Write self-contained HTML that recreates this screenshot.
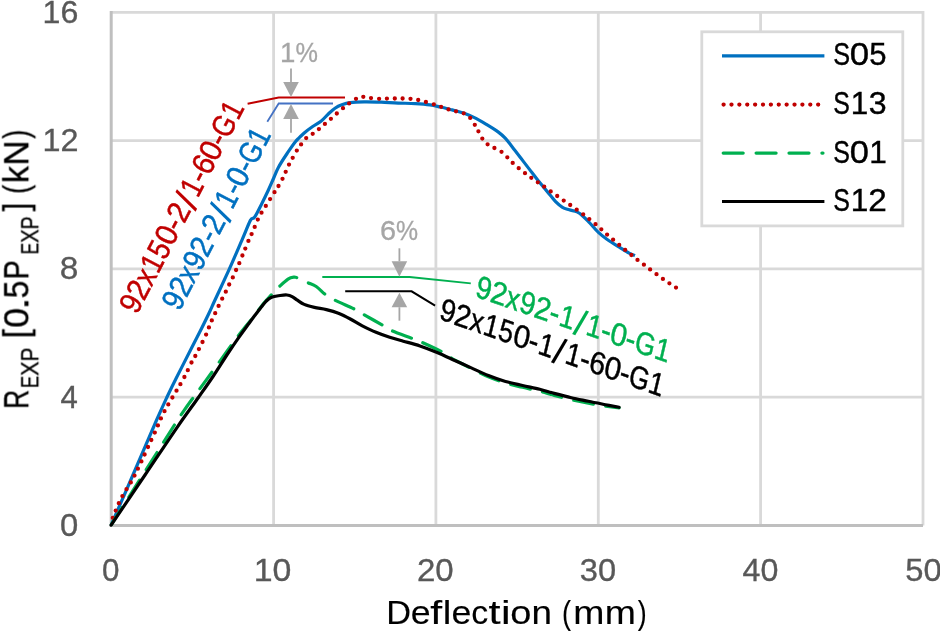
<!DOCTYPE html>
<html lang="en"><head><meta charset="utf-8"><title>Deflection chart</title>
<style>
html,body{margin:0;padding:0;background:#fff;}
body{width:940px;height:632px;overflow:hidden;}
svg{display:block;}
text{font-family:"Liberation Sans",sans-serif;}
.tick{fill:#595959;stroke:#595959;stroke-width:0.35;}
.ann{fill:#a6a6a6;stroke:#a6a6a6;stroke-width:0.3;}
</style></head><body>
<svg role="img" aria-label="R EXP [0.5P EXP] (kN) versus Deflection (mm) for specimens S05, S13, S01 and S12" width="940" height="632" viewBox="0 0 940 632">
<defs><filter id="soft" x="0" y="0" width="940" height="632" filterUnits="userSpaceOnUse"><feGaussianBlur stdDeviation="0.55"/></filter></defs>
<rect width="940" height="632" fill="#fff"/>
<g id="all" filter="url(#soft)">

<g stroke="#d9d9d9" stroke-width="2.8" fill="none">
<line x1="273.6" y1="12.3" x2="273.6" y2="525.4"/>
<line x1="435.9" y1="12.3" x2="435.9" y2="525.4"/>
<line x1="598.3" y1="12.3" x2="598.3" y2="525.4"/>
<line x1="760.6" y1="12.3" x2="760.6" y2="525.4"/>
<line x1="111.2" y1="397.1" x2="923.0" y2="397.1"/>
<line x1="111.2" y1="268.8" x2="923.0" y2="268.8"/>
<line x1="111.2" y1="140.6" x2="923.0" y2="140.6"/>
<path d="M111.2,12.3 H923.0 V525.4"/>
</g>
<path d="M111.2,10.9 V525.4 H923.0" stroke="#bfbfbf" stroke-width="3" fill="none"/>
<path id="cb" d="M111.1,525.1 C114.9,516.3 126.5,489.9 134.0,472.5 C141.6,455.1 150.9,433.0 156.4,420.5 C161.9,408.0 163.4,404.8 166.8,397.5 C170.2,390.2 172.7,385.1 176.8,377.0 C180.9,368.9 187.4,356.2 191.3,348.6 C195.2,341.0 197.1,337.2 200.0,331.5 C202.9,325.8 206.0,319.4 208.5,314.2 C211.0,308.9 211.5,307.6 215.0,300.0 C218.5,292.4 224.9,279.0 229.5,268.7 C234.1,258.4 239.2,246.4 242.7,238.4 C246.2,230.4 248.4,224.0 250.4,220.4 C252.4,216.8 252.8,219.7 254.7,217.0 C256.6,214.3 259.2,208.7 261.5,204.2 C263.8,199.7 266.4,194.3 268.4,190.0 C270.4,185.7 271.8,182.3 273.5,178.5 C275.2,174.7 276.2,171.4 278.5,167.2 C280.8,163.0 284.2,157.8 287.1,153.5 C290.0,149.2 292.8,144.9 295.6,141.5 C298.5,138.1 301.4,135.5 304.2,133.0 C307.0,130.5 309.8,128.5 312.7,126.5 C315.6,124.5 318.7,123.0 321.3,121.0 C323.9,119.0 325.8,116.3 328.1,114.2 C330.4,112.1 332.7,109.8 335.0,108.2 C337.3,106.6 339.2,105.7 341.8,104.8 C344.4,103.9 346.6,103.2 350.3,102.7 C354.0,102.2 358.9,102.0 364.0,101.9 C369.1,101.8 375.4,102.0 381.1,102.2 C386.8,102.4 392.5,102.9 398.2,103.1 C403.9,103.3 410.0,103.3 415.3,103.6 C420.6,103.9 425.8,104.3 430.0,104.9 C434.2,105.5 436.6,106.2 440.3,107.0 C444.0,107.8 448.2,108.9 452.2,109.9 C456.2,111.0 460.5,112.0 464.2,113.3 C467.9,114.6 470.7,115.8 474.4,117.6 C478.1,119.4 482.4,122.0 486.4,124.4 C490.4,126.8 495.3,129.8 498.4,132.1 C501.5,134.4 502.9,135.7 505.2,138.1 C507.5,140.5 509.5,143.4 512.1,146.7 C514.7,150.0 517.8,154.1 520.6,157.8 C523.4,161.5 526.1,165.0 529.1,168.9 C532.1,172.8 535.5,177.3 538.5,181.1 C541.5,184.8 544.2,188.0 547.1,191.4 C550.0,194.8 553.0,198.9 555.6,201.6 C558.2,204.2 560.2,205.9 562.5,207.3 C564.8,208.7 566.9,209.0 569.3,209.8 C571.7,210.6 574.7,210.8 577.0,211.9 C579.3,213.0 580.9,214.3 583.0,216.2 C585.1,218.0 587.2,220.3 589.8,223.0 C592.4,225.7 595.5,229.7 598.4,232.4 C601.2,235.1 603.5,236.8 606.9,239.2 C610.3,241.6 615.2,244.6 618.9,246.9 C622.6,249.2 626.4,251.8 629.1,253.2 C631.8,254.6 634.0,255.2 635.0,255.6" stroke="#0070c0" stroke-width="3.2" fill="none" stroke-linejoin="round"/>
<path id="cred" d="M112.8,517.8h0.01 M115.7,510.6h0.01 M118.8,503.2h0.01 M122.4,496.1h0.01 M126.5,489.2h0.01 M130.8,482.4h0.01 M134.5,475.6h0.01 M137.9,468.7h0.01 M141.4,461.4h0.01 M144.6,454.5h0.01 M148.0,447.0h0.01 M151.3,440.0h0.01 M154.8,432.6h0.01 M157.9,425.4h0.01 M160.9,418.4h0.01 M164.5,411.2h0.01 M168.3,404.4h0.01 M172.4,397.5h0.01 M176.5,390.7h0.01 M180.4,384.2h0.01 M184.4,377.0h0.01 M187.8,370.2h0.01 M191.5,362.5h0.01 M195.3,356.0h0.01 M198.9,349.1h0.01 M202.5,342.0h0.01 M206.1,334.6h0.01 M208.9,327.4h0.01 M211.8,320.4h0.01 M215.2,313.2h0.01 M218.6,305.9h0.01 M222.2,298.7h0.01 M225.8,291.7h0.01 M229.2,284.5h0.01 M232.8,277.4h0.01 M236.1,270.0h0.01 M239.3,263.2h0.01 M242.4,255.5h0.01 M245.3,248.6h0.01 M248.4,240.9h0.01 M251.6,234.1h0.01 M254.7,226.9h0.01 M257.8,219.6h0.01 M261.5,212.7h0.01 M265.8,205.9h0.01 M270.1,199.1h0.01 M274.5,192.2h0.01 M278.5,186.0h0.01 M282.5,178.8h0.01 M285.7,171.8h0.01 M289.0,164.6h0.01 M292.7,157.8h0.01 M296.8,150.6h0.01 M301.1,144.4h0.01 M306.2,138.1h0.01 M312.7,133.8h0.01 M318.9,129.1h0.01 M324.9,123.9h0.01 M330.9,118.8h0.01 M336.8,113.5h0.01 M343.0,108.2h0.01 M349.1,103.4h0.01 M356.0,98.8h0.01 M363.3,96.8h0.01 M371.0,98.1h0.01 M379.1,98.8h0.01 M386.9,98.6h0.01 M394.8,98.5h0.01 M402.6,98.5h0.01 M410.5,98.8h0.01 M418.2,100.0h0.01 M425.9,101.9h0.01 M433.8,104.3h0.01 M441.1,106.8h0.01 M448.5,109.4h0.01 M456.0,111.3h0.01 M463.7,113.3h0.01 M470.2,117.9h0.01 M474.8,124.8h0.01 M478.4,131.3h0.01 M482.3,138.6h0.01 M487.6,144.3h0.01 M494.4,148.0h0.01 M501.5,151.8h0.01 M507.3,157.3h0.01 M512.7,162.9h0.01 M518.7,168.2h0.01 M525.0,173.2h0.01 M531.3,177.8h0.01 M537.8,182.3h0.01 M544.2,186.7h0.01 M550.7,191.4h0.01 M557.2,196.0h0.01 M563.7,200.6h0.01 M570.2,205.0h0.01 M576.7,209.7h0.01 M583.2,214.3h0.01 M589.3,219.1h0.01 M595.5,224.2h0.01 M601.3,229.3h0.01 M607.1,234.6h0.01 M613.1,239.7h0.01 M619.2,244.9h0.01 M625.2,249.9h0.01 M631.4,255.0h0.01 M637.5,259.9h0.01 M643.9,264.7h0.01 M650.1,269.4h0.01 M656.5,274.2h0.01 M662.9,278.9h0.01 M669.4,283.3h0.01 M676.0,287.6h0.01" stroke="#c00000" stroke-width="4.3" fill="none" stroke-linecap="round"/>
<path id="cg" d="M111.1,525.1 C113.8,520.8 121.9,508.1 127.4,499.4 C132.9,490.7 138.5,481.9 144.1,473.0 C149.7,464.1 155.9,454.4 161.2,446.0 C166.5,437.6 171.8,429.0 176.0,422.5 C180.2,416.0 183.2,411.8 186.5,407.0 C189.8,402.2 191.9,399.6 196.0,394.0 C200.1,388.4 205.9,380.5 211.0,373.5 C216.1,366.5 222.1,358.1 226.5,352.0 C230.9,345.9 234.0,341.4 237.5,336.8 C241.0,332.2 244.5,328.1 247.5,324.3 C250.5,320.5 253.2,317.1 255.6,314.0 C258.0,310.9 259.9,308.1 262.0,305.5 C264.1,302.9 266.1,300.7 268.0,298.5 C269.9,296.3 271.6,294.5 273.5,292.5 C275.4,290.5 277.0,288.7 279.4,286.5 C281.8,284.3 285.6,280.7 288.0,279.1 C290.4,277.5 292.3,277.3 293.9,277.1 C295.5,276.9 295.1,277.0 297.4,277.9 C299.7,278.8 304.5,281.2 307.6,282.6 C310.7,284.0 313.2,284.5 316.2,286.5 C319.2,288.5 322.5,292.4 325.6,294.7 C328.7,297.0 330.0,297.7 335.0,300.2 C340.0,302.7 350.7,307.2 355.5,309.6 C360.3,312.0 359.3,312.0 364.0,314.7 C368.7,317.4 379.0,323.1 383.7,325.8 C388.4,328.5 387.4,328.8 392.2,330.9 C397.0,333.0 407.5,336.6 412.7,338.6 C417.9,340.6 418.5,340.8 423.4,343.0 C428.3,345.2 436.9,349.1 442.2,352.0 C447.5,354.9 450.1,357.5 455.0,360.2 C459.9,362.9 465.7,365.6 471.3,368.4 C476.9,371.2 482.7,374.4 488.4,376.8 C494.1,379.2 499.8,381.2 505.5,383.0 C511.2,384.8 516.9,385.9 522.6,387.3 C528.3,388.7 534.4,389.9 539.7,391.2 C545.0,392.5 548.9,394.0 554.2,395.4 C559.5,396.8 565.6,398.4 571.3,399.7 C577.0,401.0 582.7,402.2 588.4,403.3 C594.1,404.4 600.4,405.4 605.5,406.2 C610.6,406.9 616.8,407.5 619.1,407.8" stroke="#00b050" stroke-width="3.2" fill="none" stroke-dasharray="20 12.5" stroke-linecap="round" stroke-dashoffset="-0.7"/>
<path id="ck" d="M111.1,525.1 C116.8,516.8 133.9,491.4 145.0,475.0 C156.1,458.6 168.6,439.7 177.5,426.8 C186.4,413.9 192.5,405.9 198.4,397.5 C204.3,389.1 208.0,383.9 213.0,376.5 C218.0,369.1 223.9,359.4 228.2,353.0 C232.4,346.6 235.2,342.5 238.5,337.8 C241.8,333.1 245.1,328.7 247.9,324.8 C250.8,320.9 253.3,317.5 255.6,314.5 C257.9,311.5 259.8,309.0 261.5,306.8 C263.2,304.6 264.3,302.9 266.0,301.3 C267.7,299.7 269.2,298.2 271.6,297.2 C274.0,296.2 277.6,295.9 280.2,295.5 C282.8,295.1 285.0,294.8 287.0,295.0 C289.0,295.2 290.4,295.7 292.1,296.6 C293.8,297.5 295.4,298.9 297.4,300.2 C299.4,301.5 301.4,303.2 304.2,304.4 C307.0,305.6 310.7,306.5 314.4,307.4 C318.1,308.3 322.4,308.6 326.4,309.6 C330.4,310.6 334.4,311.7 338.4,313.3 C342.4,314.9 346.3,316.9 350.3,319.0 C354.3,321.1 358.0,323.6 362.3,325.8 C366.6,328.0 371.4,330.4 376.0,332.3 C380.6,334.2 385.1,335.8 389.7,337.3 C394.2,338.8 398.2,339.8 403.3,341.2 C408.4,342.6 414.4,344.0 420.0,345.9 C425.6,347.8 431.4,350.1 437.1,352.5 C442.8,354.9 448.5,357.6 454.2,360.2 C459.9,362.8 465.6,365.3 471.3,367.9 C477.0,370.5 482.7,373.3 488.4,375.6 C494.1,377.9 499.8,379.9 505.5,381.5 C511.2,383.1 516.9,384.2 522.6,385.5 C528.3,386.8 534.4,387.9 539.7,389.2 C545.0,390.5 548.9,392.0 554.2,393.4 C559.5,394.8 565.6,396.4 571.3,397.7 C577.0,399.0 582.7,400.1 588.4,401.3 C594.1,402.5 600.4,403.7 605.5,404.7 C610.6,405.7 616.8,406.9 619.1,407.3" stroke="#000" stroke-width="3.2" fill="none" stroke-linejoin="round" stroke-linecap="round"/>
<path d="M247.6,103.8 L278.7,97.5 H345" stroke="#c00000" stroke-width="2" fill="none"/>
<path d="M267.3,121.8 L278.7,103.5 H333" stroke="#4472c4" stroke-width="1.8" fill="none"/>
<path d="M322.3,277 H409.6 L470.8,283.3" stroke="#00b050" stroke-width="1.8" fill="none"/>
<path d="M345.2,291.3 H411.6 L435.1,305.7" stroke="#000" stroke-width="2" fill="none"/>
<line x1="291" y1="68.4" x2="291" y2="82" stroke="#a6a6a6" stroke-width="1.8"/><path d="M283.2,82 L298.8,82 L291,97 Z" fill="#a6a6a6"/>
<line x1="291" y1="132.8" x2="291" y2="119" stroke="#a6a6a6" stroke-width="1.8"/><path d="M283.2,119 L298.8,119 L291,103.9 Z" fill="#a6a6a6"/>
<line x1="399.4" y1="248.3" x2="399.4" y2="261.3" stroke="#a6a6a6" stroke-width="1.8"/><path d="M391.59999999999997,261.3 L407.2,261.3 L399.4,276.7 Z" fill="#a6a6a6"/>
<line x1="399.4" y1="320.7" x2="399.4" y2="307.2" stroke="#a6a6a6" stroke-width="1.8"/><path d="M391.59999999999997,307.2 L407.2,307.2 L399.4,292.8 Z" fill="#a6a6a6"/>
<text id="p1" aria-label="1%" class="ann" y="61.5" font-size="28"><tspan x="279.90" textLength="15.37" lengthAdjust="spacingAndGlyphs">1</tspan><tspan x="295.46" textLength="22.44" lengthAdjust="spacingAndGlyphs">%</tspan></text>
<text id="p6" aria-label="6%" class="ann" y="240.3" font-size="28"><tspan x="380.03" textLength="16.06" lengthAdjust="spacingAndGlyphs">6</tspan><tspan x="396.03" textLength="22.06" lengthAdjust="spacingAndGlyphs">%</tspan></text>
<text id="lr" aria-label="92x150-2/1-60-G1" transform="translate(137,315.3) rotate(-62.5)" font-size="31.5" fill="#c00000" stroke="#c00000" stroke-width="0.45"><tspan x="0.04" y="0.00" textLength="15.53" lengthAdjust="spacingAndGlyphs">9</tspan><tspan x="15.28" y="0.00" textLength="16.16" lengthAdjust="spacingAndGlyphs">2</tspan><tspan x="31.37" y="0.00" textLength="13.55" lengthAdjust="spacingAndGlyphs">x</tspan><tspan x="45.62" y="0.00" textLength="15.28" lengthAdjust="spacingAndGlyphs">1</tspan><tspan x="61.34" y="0.00" textLength="14.89" lengthAdjust="spacingAndGlyphs">5</tspan><tspan x="76.62" y="0.00" textLength="16.71" lengthAdjust="spacingAndGlyphs">0</tspan><tspan x="92.78" y="0.00" textLength="10.05" lengthAdjust="spacingAndGlyphs">-</tspan><tspan x="102.58" y="0.00" textLength="16.16" lengthAdjust="spacingAndGlyphs">2</tspan><tspan x="119.00" y="3.62" font-size="36.63" stroke-width="0" textLength="11.38" lengthAdjust="spacingAndGlyphs">/</tspan><tspan x="131.44" y="0.00" textLength="15.28" lengthAdjust="spacingAndGlyphs">1</tspan><tspan x="146.62" y="0.00" textLength="10.05" lengthAdjust="spacingAndGlyphs">-</tspan><tspan x="156.40" y="0.00" textLength="16.25" lengthAdjust="spacingAndGlyphs">6</tspan><tspan x="172.10" y="0.00" textLength="16.71" lengthAdjust="spacingAndGlyphs">0</tspan><tspan x="188.26" y="0.00" textLength="10.05" lengthAdjust="spacingAndGlyphs">-</tspan><tspan x="197.98" y="0.00" textLength="20.34" lengthAdjust="spacingAndGlyphs">G</tspan><tspan x="218.65" y="0.00" textLength="15.28" lengthAdjust="spacingAndGlyphs">1</tspan></text>
<text id="lb" aria-label="92x92-2/1-0-G1" transform="translate(179.5,312) rotate(-62.5)" font-size="31.5" fill="#0070c0" stroke="#0070c0" stroke-width="0.45"><tspan x="0.04" y="0.00" textLength="15.37" lengthAdjust="spacingAndGlyphs">9</tspan><tspan x="15.13" y="0.00" textLength="16.00" lengthAdjust="spacingAndGlyphs">2</tspan><tspan x="31.06" y="0.00" textLength="13.42" lengthAdjust="spacingAndGlyphs">x</tspan><tspan x="45.24" y="0.00" textLength="15.37" lengthAdjust="spacingAndGlyphs">9</tspan><tspan x="60.33" y="0.00" textLength="16.00" lengthAdjust="spacingAndGlyphs">2</tspan><tspan x="76.02" y="0.00" textLength="9.95" lengthAdjust="spacingAndGlyphs">-</tspan><tspan x="85.73" y="0.00" textLength="16.00" lengthAdjust="spacingAndGlyphs">2</tspan><tspan x="101.93" y="3.62" font-size="36.63" stroke-width="0" textLength="11.38" lengthAdjust="spacingAndGlyphs">/</tspan><tspan x="114.30" y="0.00" textLength="15.13" lengthAdjust="spacingAndGlyphs">1</tspan><tspan x="129.32" y="0.00" textLength="9.95" lengthAdjust="spacingAndGlyphs">-</tspan><tspan x="138.72" y="0.00" textLength="16.54" lengthAdjust="spacingAndGlyphs">0</tspan><tspan x="154.72" y="0.00" textLength="9.95" lengthAdjust="spacingAndGlyphs">-</tspan><tspan x="164.34" y="0.00" textLength="20.14" lengthAdjust="spacingAndGlyphs">G</tspan><tspan x="184.80" y="0.00" textLength="15.13" lengthAdjust="spacingAndGlyphs">1</tspan></text>
<text id="lg" aria-label="92x92-1/1-0-G1" transform="translate(474.3,296.3) rotate(19) skewX(6)" font-size="31.5" fill="#00b050" stroke="#00b050" stroke-width="0.45"><tspan x="0.04" y="0.00" textLength="15.72" lengthAdjust="spacingAndGlyphs">9</tspan><tspan x="15.47" y="0.00" textLength="16.36" lengthAdjust="spacingAndGlyphs">2</tspan><tspan x="31.76" y="0.00" textLength="13.72" lengthAdjust="spacingAndGlyphs">x</tspan><tspan x="46.26" y="0.00" textLength="15.72" lengthAdjust="spacingAndGlyphs">9</tspan><tspan x="61.69" y="0.00" textLength="16.36" lengthAdjust="spacingAndGlyphs">2</tspan><tspan x="77.73" y="0.00" textLength="10.17" lengthAdjust="spacingAndGlyphs">-</tspan><tspan x="88.34" y="0.00" textLength="15.47" lengthAdjust="spacingAndGlyphs">1</tspan><tspan x="104.35" y="3.62" font-size="36.63" stroke-width="0" textLength="11.38" lengthAdjust="spacingAndGlyphs">/</tspan><tspan x="116.87" y="0.00" textLength="15.47" lengthAdjust="spacingAndGlyphs">1</tspan><tspan x="132.23" y="0.00" textLength="10.17" lengthAdjust="spacingAndGlyphs">-</tspan><tspan x="141.84" y="0.00" textLength="16.91" lengthAdjust="spacingAndGlyphs">0</tspan><tspan x="158.20" y="0.00" textLength="10.17" lengthAdjust="spacingAndGlyphs">-</tspan><tspan x="168.04" y="0.00" textLength="20.59" lengthAdjust="spacingAndGlyphs">G</tspan><tspan x="188.96" y="0.00" textLength="15.47" lengthAdjust="spacingAndGlyphs">1</tspan></text>
<text id="lk" aria-label="92x150-1/1-60-G1" transform="translate(438.3,318.8) rotate(19.3) skewX(6)" font-size="31.5" fill="#000" stroke="#000" stroke-width="0.45"><tspan x="0.04" y="0.00" textLength="15.69" lengthAdjust="spacingAndGlyphs">9</tspan><tspan x="15.45" y="0.00" textLength="16.33" lengthAdjust="spacingAndGlyphs">2</tspan><tspan x="31.70" y="0.00" textLength="13.70" lengthAdjust="spacingAndGlyphs">x</tspan><tspan x="46.11" y="0.00" textLength="15.45" lengthAdjust="spacingAndGlyphs">1</tspan><tspan x="62.00" y="0.00" textLength="15.05" lengthAdjust="spacingAndGlyphs">5</tspan><tspan x="77.43" y="0.00" textLength="16.89" lengthAdjust="spacingAndGlyphs">0</tspan><tspan x="93.77" y="0.00" textLength="10.15" lengthAdjust="spacingAndGlyphs">-</tspan><tspan x="104.36" y="0.00" textLength="15.45" lengthAdjust="spacingAndGlyphs">1</tspan><tspan x="120.33" y="3.62" font-size="36.63" stroke-width="0" textLength="11.38" lengthAdjust="spacingAndGlyphs">/</tspan><tspan x="132.85" y="0.00" textLength="15.45" lengthAdjust="spacingAndGlyphs">1</tspan><tspan x="148.18" y="0.00" textLength="10.15" lengthAdjust="spacingAndGlyphs">-</tspan><tspan x="158.07" y="0.00" textLength="16.42" lengthAdjust="spacingAndGlyphs">6</tspan><tspan x="173.94" y="0.00" textLength="16.89" lengthAdjust="spacingAndGlyphs">0</tspan><tspan x="190.28" y="0.00" textLength="10.15" lengthAdjust="spacingAndGlyphs">-</tspan><tspan x="200.10" y="0.00" textLength="20.56" lengthAdjust="spacingAndGlyphs">G</tspan><tspan x="220.99" y="0.00" textLength="15.45" lengthAdjust="spacingAndGlyphs">1</tspan></text>
<rect x="701.8" y="31.8" width="201" height="194.1" fill="#fff" stroke="#d9d9d9" stroke-width="2.8"/>
<line x1="722" y1="55.8" x2="824.4" y2="55.8" stroke="#0070c0" stroke-width="3.2"/>
<line x1="723.6" y1="104.6" x2="819" y2="104.6" stroke="#c00000" stroke-width="4.3" stroke-dasharray="0.01 7.87" stroke-linecap="round"/>
<line x1="723.2" y1="153.1" x2="823" y2="153.1" stroke="#00b050" stroke-width="3.2" stroke-dasharray="20 12.9" stroke-linecap="round"/>
<line x1="722" y1="201.5" x2="824.4" y2="201.5" stroke="#000" stroke-width="3.2"/>
<text id="leg0" aria-label="S05" y="65.4" font-size="31" fill="#000" stroke="#000" stroke-width="0.4"><tspan x="833.25" textLength="16.86" lengthAdjust="spacingAndGlyphs">S</tspan><tspan x="849.83" textLength="19.39" lengthAdjust="spacingAndGlyphs">0</tspan><tspan x="869.22" textLength="17.28" lengthAdjust="spacingAndGlyphs">5</tspan></text>
<text id="leg1" aria-label="S13" y="114.0" font-size="31" fill="#000" stroke="#000" stroke-width="0.4"><tspan x="833.27" textLength="16.61" lengthAdjust="spacingAndGlyphs">S</tspan><tspan x="850.73" textLength="17.47" lengthAdjust="spacingAndGlyphs">1</tspan><tspan x="868.74" textLength="17.87" lengthAdjust="spacingAndGlyphs">3</tspan></text>
<text id="leg2" aria-label="S01" y="162.6" font-size="31" fill="#000" stroke="#000" stroke-width="0.4"><tspan x="833.26" textLength="16.69" lengthAdjust="spacingAndGlyphs">S</tspan><tspan x="849.67" textLength="19.19" lengthAdjust="spacingAndGlyphs">0</tspan><tspan x="869.18" textLength="17.56" lengthAdjust="spacingAndGlyphs">1</tspan></text>
<text id="leg3" aria-label="S12" y="211.2" font-size="31" fill="#000" stroke="#000" stroke-width="0.4"><tspan x="833.27" textLength="16.66" lengthAdjust="spacingAndGlyphs">S</tspan><tspan x="850.78" textLength="17.53" lengthAdjust="spacingAndGlyphs">1</tspan><tspan x="868.35" textLength="18.53" lengthAdjust="spacingAndGlyphs">2</tspan></text>
<text id="ty0" class="tick" x="59.92" y="535.8" font-size="32.2" textLength="18.27" lengthAdjust="spacingAndGlyphs">0</text>
<text id="ty4" class="tick" x="60.48" y="407.5" font-size="32.2" textLength="17.33" lengthAdjust="spacingAndGlyphs">4</text>
<text id="ty8" class="tick" x="59.75" y="279.2" font-size="32.2" textLength="18.61" lengthAdjust="spacingAndGlyphs">8</text>
<text id="ty12" class="tick" x="42.54" y="151.0" font-size="32.2" textLength="35.99" lengthAdjust="spacingAndGlyphs">12</text>
<text id="ty16" class="tick" x="42.55" y="22.7" font-size="32.2" textLength="35.76" lengthAdjust="spacingAndGlyphs">16</text>
<text id="tx0" class="tick" x="102.07" y="581.2" font-size="32.2" textLength="17.45" lengthAdjust="spacingAndGlyphs">0</text>
<text id="tx10" class="tick" x="253.68" y="581.2" font-size="32.2" textLength="37.71" lengthAdjust="spacingAndGlyphs">10</text>
<text id="tx20" class="tick" x="416.96" y="581.2" font-size="32.2" textLength="36.75" lengthAdjust="spacingAndGlyphs">20</text>
<text id="tx30" class="tick" x="579.74" y="581.2" font-size="32.2" textLength="36.32" lengthAdjust="spacingAndGlyphs">30</text>
<text id="tx40" class="tick" x="742.60" y="581.2" font-size="32.2" textLength="35.80" lengthAdjust="spacingAndGlyphs">40</text>
<text id="tx50" class="tick" x="905.19" y="581.2" font-size="32.2" textLength="36.39" lengthAdjust="spacingAndGlyphs">50</text>
<text id="xt" aria-label="Deflection (mm)" y="624.4" font-size="33.4" fill="#000" stroke="#000" stroke-width="0.15"><tspan x="386.39" textLength="24.78" lengthAdjust="spacingAndGlyphs">D</tspan><tspan x="410.76" textLength="19.90" lengthAdjust="spacingAndGlyphs">e</tspan><tspan x="430.36" textLength="11.87" lengthAdjust="spacingAndGlyphs">f</tspan><tspan x="442.80" textLength="8.59" lengthAdjust="spacingAndGlyphs">l</tspan><tspan x="451.56" textLength="19.90" lengthAdjust="spacingAndGlyphs">e</tspan><tspan x="471.19" textLength="16.94" lengthAdjust="spacingAndGlyphs">c</tspan><tspan x="488.42" textLength="12.06" lengthAdjust="spacingAndGlyphs">t</tspan><tspan x="500.95" textLength="9.65" lengthAdjust="spacingAndGlyphs">i</tspan><tspan x="510.18" textLength="21.14" lengthAdjust="spacingAndGlyphs">o</tspan><tspan x="531.43" textLength="20.49" lengthAdjust="spacingAndGlyphs">n</tspan><tspan> </tspan><tspan x="562.08" textLength="9.07" lengthAdjust="spacingAndGlyphs">(</tspan><tspan x="573.21" textLength="31.16" lengthAdjust="spacingAndGlyphs">m</tspan><tspan x="604.79" textLength="31.16" lengthAdjust="spacingAndGlyphs">m</tspan><tspan x="637.82" textLength="8.94" lengthAdjust="spacingAndGlyphs">)</tspan></text>
<g id="yt" transform="translate(28.3,406.6) rotate(-90)" fill="#000" stroke="#000" stroke-width="0.3">
<text id="yt1" aria-label="R" y="0" font-size="34.6"><tspan x="-2.17" textLength="19.10" lengthAdjust="spacingAndGlyphs">R</tspan></text>
<text id="yt2" aria-label="EXP" y="9.7" font-size="23.9"><tspan x="18.59" textLength="12.25" lengthAdjust="spacingAndGlyphs">E</tspan><tspan x="30.83" textLength="14.42" lengthAdjust="spacingAndGlyphs">X</tspan><tspan x="45.14" textLength="13.74" lengthAdjust="spacingAndGlyphs">P</tspan></text>
<text id="yt3" aria-label="[0.5P" y="0" font-size="34.6"><tspan x="68.24" textLength="9.18" lengthAdjust="spacingAndGlyphs">[</tspan><tspan x="78.76" textLength="19.89" lengthAdjust="spacingAndGlyphs">0</tspan><tspan x="96.71" textLength="12.50" lengthAdjust="spacingAndGlyphs">.</tspan><tspan x="108.15" textLength="17.73" lengthAdjust="spacingAndGlyphs">5</tspan><tspan x="127.06" textLength="19.48" lengthAdjust="spacingAndGlyphs">P</tspan></text>
<text id="yt4" aria-label="EXP" y="9.7" font-size="23.9"><tspan x="152.29" textLength="11.50" lengthAdjust="spacingAndGlyphs">E</tspan><tspan x="163.77" textLength="13.54" lengthAdjust="spacingAndGlyphs">X</tspan><tspan x="177.22" textLength="12.90" lengthAdjust="spacingAndGlyphs">P</tspan></text>
<text id="yt5" aria-label="]" y="0" font-size="34.6"><tspan x="195.25" textLength="8.81" lengthAdjust="spacingAndGlyphs">]</tspan></text>
<text id="yt6" aria-label="(kN)" y="0" font-size="34.6"><tspan x="212.74" textLength="8.94" lengthAdjust="spacingAndGlyphs">(</tspan><tspan x="223.50" textLength="17.05" lengthAdjust="spacingAndGlyphs">k</tspan><tspan x="241.03" textLength="25.24" lengthAdjust="spacingAndGlyphs">N</tspan><tspan x="268.02" textLength="8.82" lengthAdjust="spacingAndGlyphs">)</tspan></text>
</g>
</g>
</svg></body></html>
